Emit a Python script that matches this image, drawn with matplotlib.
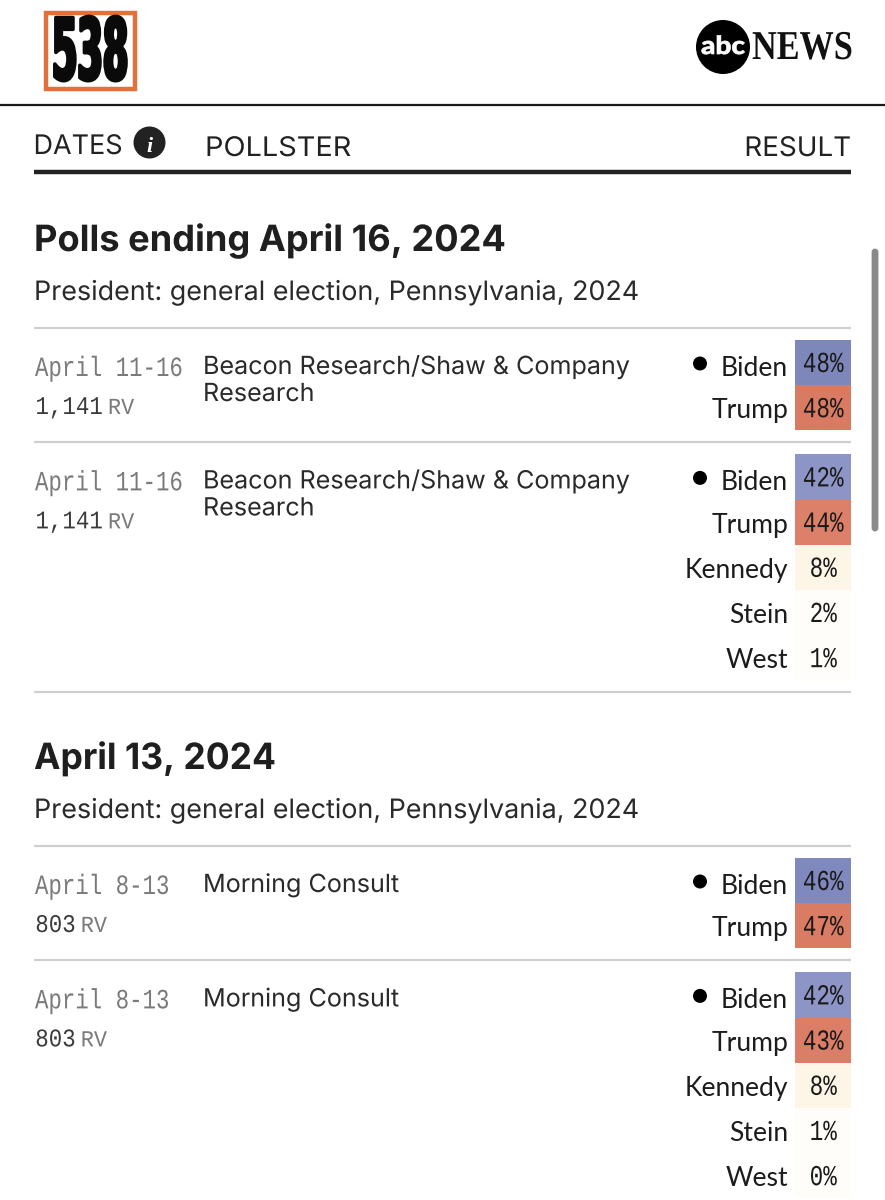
import matplotlib
matplotlib.use("Agg")
import matplotlib.pyplot as plt
from matplotlib.patches import Rectangle, Circle, FancyBboxPatch
from matplotlib.patheffects import AbstractPathEffect
from matplotlib.transforms import Affine2D


class Squeeze(AbstractPathEffect):
    """Condense or widen glyphs horizontally, keeping the text as real text."""
    def __init__(self, sx, center=False, stroke=0):
        super().__init__()
        self.sx, self.center, self.stroke = sx, center, stroke

    def draw_path(self, renderer, gc, tpath, affine, rgbFace=None):
        t = Affine2D()
        if self.center:
            e = tpath.get_extents()
            mid = (e.x0 + e.x1) / 2
            t = t.translate(-mid, 0).scale(self.sx, 1).translate(mid, 0)
        else:
            t = t.scale(self.sx, 1)
        if self.stroke:
            gc0 = renderer.new_gc()
            gc0.copy_properties(gc)
            gc0.set_linewidth(self.stroke)
            gc0.set_foreground(rgbFace)
            renderer.draw_path(gc0, tpath, t + affine, rgbFace)
            gc0.restore()
        else:
            renderer.draw_path(gc, tpath, t + affine, rgbFace)


# ---------- data ----------
section_titles = ["Polls ending April 16, 2024", "April 13, 2024"]
race_labels = ["President: general election, Pennsylvania, 2024"] * 2
poll_section = [0, 0, 1, 1]
poll_dates = ["April 11-16", "April 11-16", "April 8-13", "April 8-13"]
poll_sample = ["1,141", "1,141", "803", "803"]
poll_pop = ["RV", "RV", "RV", "RV"]
poll_names = [["Beacon Research/Shaw & Company", "Research"],
              ["Beacon Research/Shaw & Company", "Research"],
              ["Morning Consult"], ["Morning Consult"]]
cand_names = [["Biden", "Trump"],
              ["Biden", "Trump", "Kennedy", "Stein", "West"],
              ["Biden", "Trump"],
              ["Biden", "Trump", "Kennedy", "Stein", "West"]]
cand_values = [[48, 48], [42, 44, 8, 2, 1], [46, 47], [42, 43, 8, 1, 0]]
cand_colors = [["#7d87ba", "#d97a62"],
               ["#8d95c6", "#dc8069", "#fdf6e6", "#fffdf9", "#fffdf9"],
               ["#8089bd", "#da7c64"],
               ["#8d95c6", "#db7e67", "#fdf6e6", "#fffdf9", "#fffdf9"]]
headers = ["DATES", "POLLSTER", "RESULT"]

# ---------- layout (pixels) ----------
W, H = 885, 1200
LEFT, RIGHT = 34, 851
ROW = 45.2
INK = "#222222"
GRAY = "#7a7a7a"
RULE = "#cfcfcf"
px = 0.72  # points per pixel at dpi 100
title_stretch = [1.0, 0.98]

fig = plt.figure(figsize=(W / 100, H / 100), dpi=100, facecolor="white")
ax = fig.add_axes([0, 0, 1, 1])
ax.set_xlim(0, W)
ax.set_ylim(H, 0)
ax.axis("off")


def txt(x, y, s, size, font="Inter", color=INK, weight="normal", ha="left", **kw):
    return ax.text(x, y, s, fontsize=size * px, family=font, color=color,
                   fontweight=weight, ha=ha, va="baseline", **kw)


# logo 538
ax.add_patch(Rectangle((46, 12.5), 89, 76, fc="white", ec="#e2703a", lw=3.2))
txt(52, 79.5, "538", 85, font="Liberation Sans Narrow", color="#0a0a0a", weight="bold",
    path_effects=[Squeeze(0.43, stroke=2.6)])

# abc news logo
ax.add_patch(Circle((723, 47), 27, fc="black", ec="none"))
txt(723, 54, "abc", 25, font="Lato", color="white", weight="black", ha="center",
    path_effects=[Squeeze(1.12, center=True, stroke=0.5)])
txt(752, 59, "NEWS", 41, font="Liberation Serif", color="#111111", weight="bold",
    path_effects=[Squeeze(0.835)])

# header
ax.plot([0, W], [104.5, 104.5], color="#1a1a1a", lw=1.6, solid_capstyle="butt")
txt(33.5, 154, headers[0], 27, font="Inter", path_effects=[Squeeze(1.0)])
ax.add_patch(Circle((149.5, 142.5), 16, fc=INK, ec="none"))
txt(149.5, 152, "i", 22, font="Liberation Serif", color="white", weight="bold",
    style="italic", ha="center")
txt(205, 156, headers[1], 27, font="Inter", path_effects=[Squeeze(1.07)])
txt(849.5, 156, headers[2], 27, font="Inter", ha="right",
    path_effects=[Squeeze(1.03, center=True)])
ax.plot([LEFT, RIGHT], [172, 172], color=INK, lw=3.2, solid_capstyle="butt")

# scrollbar
ax.add_patch(FancyBboxPatch((873, 250), 4, 280, boxstyle="round,pad=0,rounding_size=2",
                            fc="#8a8a8a", ec="#8a8a8a", lw=2))

# sections and polls
y = 328
current = -1
section_tops = [0, 518]
for i, names in enumerate(cand_names):
    sec = poll_section[i]
    if sec != current:
        current = sec
        y = 328 + section_tops[sec]
        txt(LEFT, y - 77, section_titles[sec], 36.2, weight="bold", color="#1f1f1f",
            path_effects=[Squeeze(title_stretch[sec])])
        txt(LEFT, y - 28, race_labels[sec], 26.75, color="#2a2a2a",
            path_effects=[Squeeze(1.005)])
        ax.plot([LEFT, RIGHT], [y, y], color=RULE, lw=1.6, solid_capstyle="butt")
    txt(35, y + 48, poll_dates[i], 28, font="Liberation Mono", color=GRAY,
        path_effects=[Squeeze(0.80)])
    n_chars = len(poll_sample[i])
    sample_end = 35 + 13.6 * n_chars
    txt(35 + 13.6 * n_chars / 2, y + 86, poll_sample[i], 25.5, font="Liberation Mono",
        color="#3a3a3a", ha="center", path_effects=[Squeeze(0.88, center=True)])
    txt(sample_end + 18, y + 86, poll_pop[i], 23, ha="center",
        font="Liberation Mono", color=GRAY, path_effects=[Squeeze(0.95, center=True)])
    for k, line in enumerate(poll_names[i]):
        txt(203, y + 46 + 27 * k, line, 25, color="#2a2a2a",
            path_effects=[Squeeze(1.005)])
    top = y + 12
    for j, (n, v, c) in enumerate(zip(names, cand_values[i], cand_colors[i])):
        cy = top + j * ROW
        ax.add_patch(Rectangle((795, cy), 56, ROW, fc=c, ec="none"))
        base = cy + (36 if j == 0 else 33)
        txt(788, base, n, 26.5, font="Lato", color="#1c1c1c", ha="right")
        txt(823, cy + 32, f"{v}%", 29, font="Liberation Mono", color="#1a1a1a",
            ha="center", path_effects=[Squeeze(0.78, center=True)])
    ax.add_patch(Circle((700, top + 23.5), 7, fc="black", ec="none"))
    y = top + len(names) * ROW + 12
    ax.plot([LEFT, RIGHT], [y, y], color=RULE, lw=1.6, solid_capstyle="butt")

fig.savefig("out.png", dpi=100, facecolor="white")
